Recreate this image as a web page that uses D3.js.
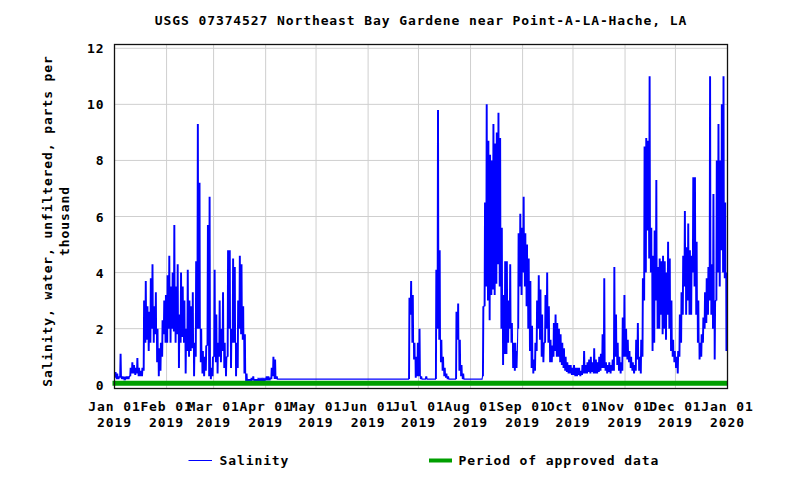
<!DOCTYPE html>
<html><head><meta charset="utf-8">
<script src="https://cdn.jsdelivr.net/npm/d3@7"></script>
<style>
body{margin:0;background:#fff;}
svg text{font-family:"DejaVu Sans Mono","Liberation Mono",monospace;font-weight:bold;fill:#000;}
</style></head><body>
<svg id="chart" width="785" height="480"></svg>
<script>
const chartTitle = "USGS 07374527 Northeast Bay Gardene near Point-A-LA-Hache, LA";
const yTitleLines = ["Salinity, water, unfiltered, parts per", "thousand"];
const yTicks = [0, 2, 4, 6, 8, 10, 12];
const xTickDates = ["2019-01-01","2019-02-01","2019-03-01","2019-04-01","2019-05-01","2019-06-01","2019-07-01","2019-08-01","2019-09-01","2019-10-01","2019-11-01","2019-12-01","2020-01-01"];
const xTickLine1 = ["Jan 01","Feb 01","Mar 01","Apr 01","May 01","Jun 01","Jul 01","Aug 01","Sep 01","Oct 01","Nov 01","Dec 01","Jan 01"];
const xTickLine2 = ["2019","2019","2019","2019","2019","2019","2019","2019","2019","2019","2019","2019","2020"];
const legendLabels = ["Salinity", "Period of approved data"];
const seriesStart = "2019-01-01";
const approvedPeriod = ["2019-01-01", "2020-01-01"];
const approvedLevel = 0.05;

// daily low / high salinity (ppt), day 0 = 2019-01-01
const dailyLow = [
0.25,0.2,0.2,0.25,0.2,0.2,0.2,0.2,0.2,0.3,
0.4,0.4,0.35,0.4,0.3,0.3,0.3,0.5,1.5,1.6,
1.2,1.5,2.0,1.5,1.8,0.8,0.3,0.5,1.0,1.8,
1.5,1.5,2.0,1.5,2.0,1.9,1.5,1.8,0.6,1.5,
1.7,1.5,0.4,1.2,1.0,1.2,1.3,0.3,1.0,2.0,
2.0,0.8,0.4,0.3,0.5,1.4,0.3,0.2,0.3,1.0,
0.8,0.4,1.0,0.8,1.2,0.6,0.3,1.0,2.0,0.6,
1.5,1.5,0.3,0.6,2.0,1.8,1.6,0.4,0.1,0.1,
0.1,0.1,0.15,0.1,0.1,0.15,0.15,0.15,0.15,0.15,
0.15,0.15,0.15,0.2,0.3,0.2,0.2,0.2,0.2,0.2,
0.2,0.2,0.2,0.2,0.2,0.2,0.2,0.2,0.2,0.2,0.2,0.2,0.2,0.2,0.2,
0.2,0.2,0.2,0.2,0.2,0.2,0.2,0.2,0.2,0.2,0.2,0.2,0.2,0.2,0.2,
0.2,0.2,0.2,0.2,0.2,0.2,0.2,0.2,0.2,0.2,0.2,0.2,0.2,0.2,0.2,
0.2,0.2,0.2,0.2,0.2,0.2,0.2,0.2,0.2,0.2,0.2,0.2,0.2,0.2,0.2,
0.2,0.2,0.2,0.2,0.2,0.2,0.2,0.2,0.2,0.2,0.2,0.2,0.2,0.2,0.2,
0.2,2.5,1.5,0.9,0.25,0.3,0.3,0.2,0.2,0.2,
0.2,0.2,0.2,0.2,0.2,0.2,0.2,2.0,1.6,0.8,
0.5,0.3,0.25,0.2,0.2,0.2,0.2,0.2,0.2,1.6,
0.5,0.3,0.2,0.2,0.2,0.2,0.2,0.2,0.2,0.2,
0.2,0.2,0.2,0.2,0.3,2.8,3.5,3.0,2.3,3.2,
3.4,3.2,3.6,4.3,3.5,2.0,0.7,1.1,1.1,1.5,
2.0,1.5,0.6,0.5,0.6,2.0,3.5,3.2,4.0,3.5,
2.8,2.0,1.2,0.6,0.4,0.5,1.2,2.0,1.6,1.0,
0.8,1.5,2.0,1.5,0.8,0.8,1.0,1.2,1.0,1.0,
0.8,0.7,0.6,0.5,0.45,0.4,0.4,0.35,0.35,0.3,
0.3,0.35,0.3,0.35,0.4,0.4,0.4,0.45,0.4,0.45,
0.4,0.4,0.4,0.45,0.5,0.6,0.6,0.5,0.4,0.45,
0.4,0.5,0.5,1.0,0.7,0.5,0.4,0.5,1.0,1.0,
0.9,0.8,0.6,0.5,0.4,0.5,0.9,0.5,0.4,1.0,
3.0,4.0,5.5,4.5,4.0,1.2,1.5,3.0,2.0,2.0,
2.5,1.8,2.0,1.6,2.5,2.0,1.2,1.0,0.8,0.6,
0.4,1.0,1.5,2.5,3.5,2.5,3.0,2.5,2.5,4.0,
3.5,2.5,1.5,0.9,1.0,1.5,2.0,2.2,2.5,3.0,
2.5,2.0,0.9,3.0,4.0,3.5,4.8,4.0,3.8,1.2
];
const dailyHigh = [
0.45,0.4,0.3,1.1,0.3,0.25,0.25,0.3,0.3,0.6,
0.8,0.7,0.6,0.95,0.6,0.5,0.6,3.0,3.7,2.8,
2.6,3.8,4.3,2.8,3.3,2.0,1.3,1.5,2.3,3.0,
3.2,3.9,4.6,3.5,4.0,5.7,3.5,4.3,2.5,4.0,
3.5,3.0,2.0,4.1,3.0,2.8,3.3,1.5,4.4,9.3,
7.2,2.0,1.2,1.0,1.4,5.7,6.7,0.6,1.0,4.1,
2.5,1.5,3.0,2.0,3.3,1.5,1.0,4.8,4.8,2.0,
4.5,4.2,1.5,3.0,4.6,4.3,2.8,1.8,0.4,0.2,
0.2,0.25,0.3,0.2,0.2,0.2,0.2,0.2,0.2,0.2,
0.3,0.3,0.25,0.6,1.0,0.9,0.3,0.2,0.2,0.2,
0.2,0.2,0.2,0.2,0.2,0.2,0.2,0.2,0.2,0.2,0.2,0.2,0.2,0.2,0.2,
0.2,0.2,0.2,0.2,0.2,0.2,0.2,0.2,0.2,0.2,0.2,0.2,0.2,0.2,0.2,
0.2,0.2,0.2,0.2,0.2,0.2,0.2,0.2,0.2,0.2,0.2,0.2,0.2,0.2,0.2,
0.2,0.2,0.2,0.2,0.2,0.2,0.2,0.2,0.2,0.2,0.2,0.2,0.2,0.2,0.2,
0.2,0.2,0.2,0.2,0.2,0.2,0.2,0.2,0.2,0.2,0.2,0.2,0.2,0.2,0.2,
3.1,3.7,3.2,1.5,1.0,1.5,2.0,0.3,0.2,0.2,
0.3,0.2,0.2,0.2,0.2,0.2,4.1,9.8,4.8,1.6,
1.0,0.6,0.4,0.3,0.2,0.2,0.2,0.2,2.6,2.9,
1.6,0.7,0.4,0.2,0.2,0.2,0.2,0.2,0.2,0.2,
0.2,0.2,0.2,0.2,2.8,6.5,10.0,8.7,8.2,8.0,
9.3,8.6,9.0,9.7,8.8,5.6,3.2,4.4,4.4,3.0,
4.3,2.2,1.5,1.5,1.2,5.4,6.1,5.6,6.7,5.4,
5.0,4.5,3.7,2.1,0.9,1.5,3.0,3.9,3.4,2.5,
1.5,3.2,4.0,2.8,1.6,1.4,2.2,2.5,2.2,2.0,
1.8,1.5,1.3,1.0,0.8,0.7,0.7,0.6,0.7,0.6,
0.6,0.6,0.5,0.7,1.2,0.7,0.8,0.9,1.0,0.8,
1.3,0.9,0.8,1.0,1.1,1.8,3.8,0.8,0.7,0.8,
0.7,0.9,4.2,2.5,1.5,1.0,0.8,2.4,3.2,2.0,
1.6,1.2,1.0,0.8,0.7,1.6,2.2,1.0,1.6,3.8,
8.5,8.8,8.7,11.0,5.6,4.6,5.5,7.3,4.2,4.5,
4.4,4.6,4.4,4.0,5.1,4.5,3.0,1.6,1.2,1.0,
1.2,2.5,3.3,4.6,6.2,4.9,5.75,4.8,4.6,7.4,
7.4,5.1,3.0,1.5,1.8,2.4,3.3,3.8,4.2,11.0,
4.3,6.8,3.0,8.0,9.3,8.0,10.0,11.0,6.5,4.0
];

(function () {
const svg = d3.select("#chart");
const pL = 114.5, pR = 727.5, pT = 44.5, pB = 388.5;
const DAY = 86400000;
const parse = s => new Date(s + "T00:00:00Z");
const FS = "13px", LS = "0.9px";

const x = d3.scaleUtc().domain([parse("2019-01-01"), parse("2020-01-01")]).range([pL, pR]);
const y = d3.scaleLinear().domain([-0.135, 12.135]).range([pB, pT]);

if (dailyLow.length !== 365 || dailyHigh.length !== 365) {
  svg.append("text").attr("x", 5).attr("y", 475).style("fill", "red")
     .text("len " + dailyLow.length + " " + dailyHigh.length);
}

// gridlines
const grid = svg.append("g");
grid.selectAll("line.v").data(xTickDates.map(parse)).join("line")
  .attr("x1", d => x(d)).attr("x2", d => x(d)).attr("y1", pT).attr("y2", pB)
  .attr("stroke", "#cfcfcf").attr("stroke-width", 1);
grid.selectAll("line.h").data(yTicks).join("line")
  .attr("x1", pL).attr("x2", pR).attr("y1", d => y(d)).attr("y2", d => y(d))
  .attr("stroke", "#cfcfcf").attr("stroke-width", 1);

// clip
svg.append("clipPath").attr("id", "clip").append("rect")
  .attr("x", pL).attr("y", pT).attr("width", pR - pL).attr("height", pB - pT);

// series: two tidal swings per day between the day's low and high
const t0 = parse(seriesStart).getTime();
const pts = [];
dailyLow.forEach((lo, i) => {
  const hi = dailyHigh[i];
  pts.push([new Date(t0 + (i + 0.125) * DAY), lo]);
  pts.push([new Date(t0 + (i + 0.375) * DAY), hi]);
  pts.push([new Date(t0 + (i + 0.625) * DAY), lo]);
  pts.push([new Date(t0 + (i + 0.875) * DAY), hi]);
});
const line = d3.line().x(d => x(d[0])).y(d => y(d[1]));
svg.append("path").datum(pts).attr("clip-path", "url(#clip)")
  .attr("d", line).attr("fill", "none").attr("stroke", "#0000ff").attr("stroke-width", 1.1);

// approved bar
svg.append("line")
  .attr("x1", x(parse(approvedPeriod[0])) - 2).attr("x2", x(parse(approvedPeriod[1])))
  .attr("y1", y(approvedLevel)).attr("y2", y(approvedLevel))
  .attr("stroke", "#009f00").attr("stroke-width", 5);

// frame
svg.append("rect").attr("x", pL).attr("y", pT).attr("width", pR - pL).attr("height", pB - pT)
  .attr("fill", "none").attr("stroke", "#111").attr("stroke-width", 1.3);

// y axis
const yAxis = d3.axisLeft(y).tickValues(yTicks).tickSize(0).tickPadding(10).tickFormat(d3.format("d"));
const gy = svg.append("g").attr("transform", `translate(${pL},0)`).call(yAxis);
gy.select(".domain").remove();
gy.selectAll("text").style("font-size", FS).style("letter-spacing", LS)
  .style("font-family", '"DejaVu Sans Mono",monospace').style("font-weight", "bold").attr("dy", "0.35em");

// x axis
const xDates = xTickDates.map(parse);
const xAxis = d3.axisBottom(x).tickValues(xDates).tickSize(0).tickFormat(() => "");
const gx = svg.append("g").attr("transform", `translate(0,${pB})`).call(xAxis);
gx.select(".domain").remove();
const xl = svg.append("g");
xDates.forEach((d, i) => {
  const t = xl.append("text").attr("text-anchor", "middle").style("font-size", FS).style("letter-spacing", LS);
  t.append("tspan").attr("x", x(d)).attr("y", 411).text(xTickLine1[i]);
  t.append("tspan").attr("x", x(d)).attr("y", 427).text(xTickLine2[i]);
});

// title
svg.append("text").attr("x", 421).attr("y", 25).attr("text-anchor", "middle")
  .style("font-size", FS).style("letter-spacing", LS).text(chartTitle);

// y title
const yt = svg.append("text").attr("transform", "translate(0,221) rotate(-90)").attr("text-anchor", "middle")
  .style("font-size", FS).style("letter-spacing", LS);
yt.append("tspan").attr("x", 0).attr("y", 52).text(yTitleLines[0]);
yt.append("tspan").attr("x", 0).attr("y", 68.5).text(yTitleLines[1]);

// legend
const lg = svg.append("g");
lg.append("line").attr("x1", 188.5).attr("x2", 212).attr("y1", 460.5).attr("y2", 460.5)
  .attr("stroke", "#0000ff").attr("stroke-width", 1);
lg.append("text").attr("x", 219.5).attr("y", 465).style("font-size", FS).style("letter-spacing", LS).text(legendLabels[0]);
lg.append("line").attr("x1", 429).attr("x2", 452).attr("y1", 460.5).attr("y2", 460.5)
  .attr("stroke", "#009f00").attr("stroke-width", 4);
lg.append("text").attr("x", 458.5).attr("y", 465).style("font-size", FS).style("letter-spacing", LS).text(legendLabels[1]);
})();
</script>
</body></html>
